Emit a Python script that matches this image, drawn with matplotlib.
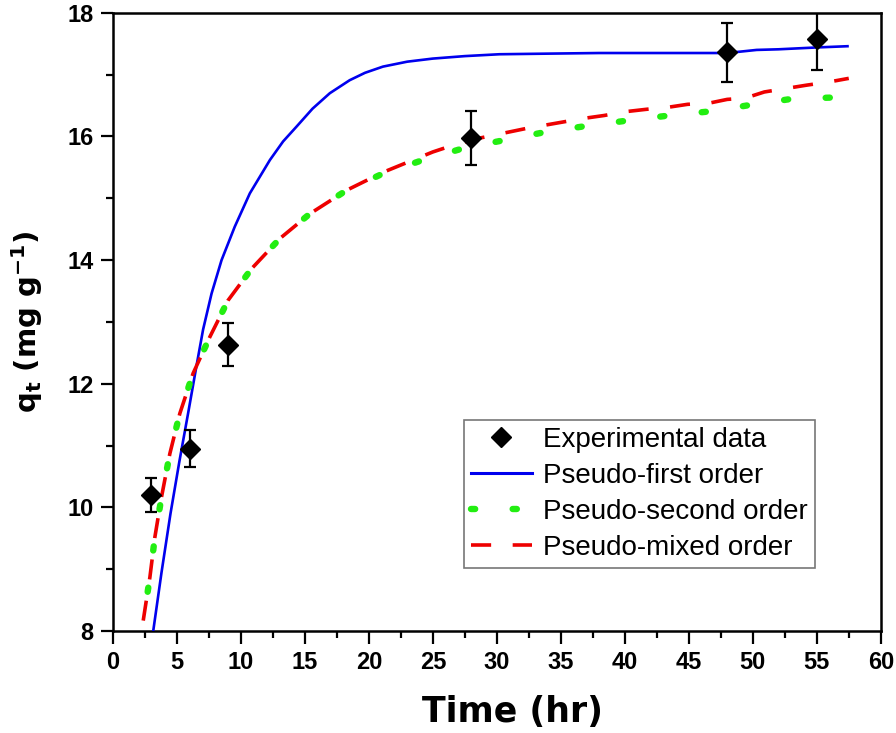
import matplotlib
matplotlib.use("Agg")
import matplotlib.pyplot as plt
from matplotlib.ticker import MultipleLocator
from matplotlib.lines import Line2D

plt.rcParams['font.family'] = ['Liberation Sans', 'DejaVu Sans']
plt.rcParams['mathtext.fontset'] = 'dejavusans'
plt.rcParams['mathtext.default'] = 'bf'
plt.rcParams['lines.scale_dashes'] = False

# Experimental data
t_exp = [3, 6, 9, 28, 48, 55]
q_exp = [10.20, 10.95, 12.63, 15.98, 17.36, 17.57]
q_err = [0.28, 0.30, 0.35, 0.44, 0.48, 0.50]

# Pseudo-first order
t_pfo = [3.15, 3.8, 4.5, 5.2, 5.9, 6.54, 7.05, 7.71, 8.49, 9.52, 10.7, 12.27, 13.3, 14.35,
         15.6, 16.95, 18.5, 19.7, 21.1, 23.0, 25.0, 27.5, 30.2, 34.0, 38.0, 48.0, 50.3,
         52.0, 55.0, 57.4]
q_pfo = [8.00, 8.95, 9.90, 10.75, 11.55, 12.30, 12.88, 13.46, 14.00, 14.54, 15.08, 15.62, 15.92,
         16.16, 16.45, 16.70, 16.91, 17.03, 17.13, 17.21, 17.26, 17.30, 17.33, 17.34, 17.35,
         17.35, 17.40, 17.41, 17.44, 17.46]

# Pseudo-second order
t_pso = [2.37, 2.89, 3.28, 3.8, 4.45, 5.23, 6.27, 7.58, 9.0, 10.83, 13.05, 15.39, 18.26,
         21.1, 24.24, 27.4, 30.8, 33.75, 37.0, 40.3, 43.5, 46.85, 49.8, 53.1, 56.3, 56.6]
q_pso = [8.17, 8.87, 9.52, 10.17, 10.87, 11.52, 12.17, 12.76, 13.35, 13.86, 14.35, 14.75, 15.13,
         15.40, 15.62, 15.81, 15.95, 16.07, 16.17, 16.26, 16.34, 16.41, 16.51, 16.61, 16.63, 16.64]

# Pseudo-mixed order
t_pmo = [2.37, 2.89, 3.28, 3.8, 4.45, 5.23, 6.27, 7.58, 9.0, 10.83, 13.05, 15.39, 18.26,
         21.1, 25.0, 26.6, 28.8, 32.3, 36.7, 38.4, 40.0, 41.7, 43.3, 44.9, 46.6, 48.0,
         49.4, 50.9, 52.7, 54.2, 55.9, 57.5]
q_pmo = [8.17, 8.87, 9.52, 10.17, 10.87, 11.52, 12.17, 12.76, 13.35, 13.86, 14.35, 14.75, 15.13,
         15.42, 15.75, 15.86, 15.98, 16.13, 16.29, 16.34, 16.40, 16.44, 16.47, 16.52, 16.54, 16.60,
         16.62, 16.72, 16.78, 16.83, 16.88, 16.94]

x_ticks = [0, 5, 10, 15, 20, 25, 30, 35, 40, 45, 50, 55, 60]
y_ticks = [8, 10, 12, 14, 16, 18]

BLUE, GREEN, RED = '#0000ee', '#22ee11', '#ee0000'
green_style = dict(color=GREEN, lw=4.6, dash_capstyle='round')
red_style = dict(color=RED, lw=2.6, dash_capstyle='butt')

fig = plt.figure(figsize=(8.96, 7.33), dpi=100)
ax = fig.add_axes([0.126, 0.139, 0.857, 0.8435])

ax.plot(t_pfo, q_pfo, color=BLUE, lw=1.9, zorder=3)
ax.plot(t_pso, q_pso, linestyle=(9.0, (3.0, 27.0)), zorder=4, **green_style)
ax.plot(t_pmo, q_pmo, linestyle=(0, (14.5, 15.5)), zorder=5, **red_style)

ax.errorbar(t_exp, q_exp, yerr=q_err, fmt='none', ecolor='black', elinewidth=1.6,
            capsize=4.5, capthick=1.6, zorder=6)
ax.plot(t_exp, q_exp, linestyle='none', marker='D', ms=10.5, color='black', zorder=7)

ax.set_xlim(0, 60)
ax.set_ylim(8, 18)
ax.set_xticks(x_ticks)
ax.set_yticks(y_ticks)
ax.xaxis.set_minor_locator(MultipleLocator(2.5))
ax.yaxis.set_minor_locator(MultipleLocator(1))
ax.tick_params(which='major', direction='out', length=9, width=1.6, labelsize=17, pad=5)
ax.tick_params(which='minor', direction='out', length=5, width=1.6)
for lab in ax.get_xticklabels() + ax.get_yticklabels():
    lab.set_fontweight('bold')
for s in ax.spines.values():
    s.set_linewidth(1.8)

ax.set_xlabel('Time (hr)', fontsize=25, fontweight='bold', family='DejaVu Sans')
ax.xaxis.set_label_coords(0.52, -0.104)
ax.set_ylabel(r'q$_\mathbf{t}$ (mg g$^{\mathbf{-1}}$)', fontsize=21, fontweight='bold',
              family='DejaVu Sans')
ax.yaxis.set_label_coords(-0.088, 0.5)

handles = [
    Line2D([], [], linestyle='none', marker='D', ms=10.5, color='black'),
    Line2D([], [], color=BLUE, lw=2.2),
    Line2D([], [], linestyle=(0, (3.0, 27.0)), **green_style),
    Line2D([], [], linestyle=(0, (14.5, 15.5)), **red_style),
]
labels = ['Experimental data', 'Pseudo-first order', 'Pseudo-second order', 'Pseudo-mixed order']
leg = ax.legend(handles, labels,
                loc='lower left', bbox_to_anchor=(0.457, 0.102), borderaxespad=0,
                fontsize=20, frameon=True, fancybox=False, edgecolor='#555555',
                handlelength=2.2, handletextpad=0.4, labelspacing=0.36,
                borderpad=0.25)
leg.get_frame().set_linewidth(1.2)

fig.savefig('out.png', dpi=100)
